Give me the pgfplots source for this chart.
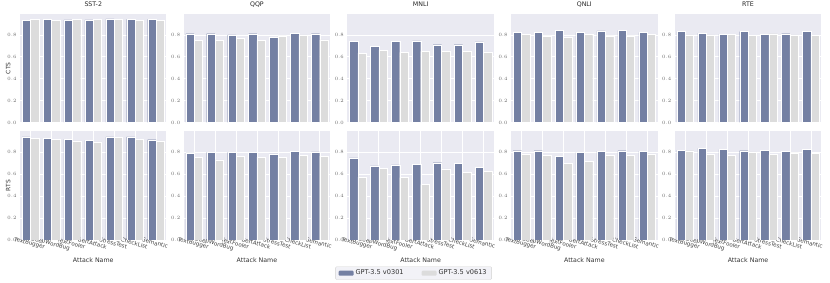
\documentclass[border=0pt]{standalone}
\usepackage{pgfplots}
\pgfplotsset{compat=1.18}
\usepgfplotslibrary{groupplots}
\usetikzlibrary{calc}
\usepackage{fontspec}
\setsansfont{DejaVu Sans}
\definecolor{cdark}{HTML}{7480A3}
\definecolor{clight}{HTML}{DCDCDC}
\definecolor{bgc}{HTML}{EAEAF2}
\pgfplotsset{
  panel/.style={
    width=146.5bp, height=108.5bp, scale only axis,
    axis background/.style={fill=bgc},
    axis line style={draw=none},
    major tick length=0pt,
    ymin=0, ymax=0.99, xmin=-0.5, xmax=6.5,
    ytick={0,0.2,0.4,0.6,0.8},
    yticklabel style={font=\fontsize{5}{5}\selectfont, text=black!60, /pgf/number format/fixed, /pgf/number format/precision=1, /pgf/number format/fixed zerofill},
    ymajorgrids, grid style={white, line width=0.6pt},
    xtick={0,1,2,3,4,5,6},
    title style={font=\sffamily\fontsize{6.3}{7}\selectfont, text=black!85, yshift=-2.5bp},
    ylabel style={font=\sffamily\fontsize{6}{7}\selectfont, text=black!80, at={(axis description cs:-0.08,0.5)}, anchor=center},
    xlabel style={font=\sffamily\fontsize{6.3}{7}\selectfont, text=black!80, at={(axis description cs:0.5,-0.19)}, anchor=center},
    ybar, bar width=0.4,
  },
  toprow/.style={panel, xticklabels={}},
  botrow/.style={panel, xmajorgrids,
    xticklabels={TextBugger,DeepWordBug,TextFooler,BertAttack,StressTest,CheckList,Semantic},
    xticklabel style={font=\sffamily\fontsize{5.6}{6}\selectfont, text=black!75, rotate=-15, anchor=north, inner sep=1pt},
    xlabel={Attack Name}},
  s1/.style={fill=cdark, draw=white, line width=0.3pt, bar shift=-0.2},
  s2/.style={fill=clight, draw=white, line width=0.3pt, bar shift=0.2},
}
\begin{document}
\begin{tikzpicture}
\begin{groupplot}[group style={group size=5 by 2, horizontal sep=17.2bp, vertical sep=9bp}]
% ---------- CTS row ----------
\nextgroupplot[toprow, title={SST-2}, ylabel={CTS}]
\addplot[s1] coordinates {(0,0.935) (1,0.940) (2,0.937) (3,0.937) (4,0.945) (5,0.940) (6,0.940)};
\addplot[s2] coordinates {(0,0.940) (1,0.935) (2,0.940) (3,0.940) (4,0.940) (5,0.935) (6,0.935)};
\nextgroupplot[toprow, title={QQP}]
\addplot[s1] coordinates {(0,0.810) (1,0.810) (2,0.800) (3,0.810) (4,0.780) (5,0.815) (6,0.810)};
\addplot[s2] coordinates {(0,0.750) (1,0.750) (2,0.770) (3,0.750) (4,0.790) (5,0.800) (6,0.755)};
\nextgroupplot[toprow, title={MNLI}]
\addplot[s1] coordinates {(0,0.742) (1,0.696) (2,0.742) (3,0.745) (4,0.710) (5,0.710) (6,0.735)};
\addplot[s2] coordinates {(0,0.632) (1,0.660) (2,0.640) (3,0.650) (4,0.650) (5,0.650) (6,0.645)};
\nextgroupplot[toprow, title={QNLI}]
\addplot[s1] coordinates {(0,0.820) (1,0.825) (2,0.840) (3,0.820) (4,0.835) (5,0.840) (6,0.820)};
\addplot[s2] coordinates {(0,0.805) (1,0.790) (2,0.780) (3,0.805) (4,0.790) (5,0.790) (6,0.805)};
\nextgroupplot[toprow, title={RTE}]
\addplot[s1] coordinates {(0,0.830) (1,0.815) (2,0.805) (3,0.830) (4,0.805) (5,0.810) (6,0.830)};
\addplot[s2] coordinates {(0,0.800) (1,0.800) (2,0.805) (3,0.795) (4,0.810) (5,0.800) (6,0.795)};
% ---------- RTS row ----------
\nextgroupplot[botrow, ylabel={RTS}]
\addplot[s1] coordinates {(0,0.940) (1,0.925) (2,0.920) (3,0.910) (4,0.940) (5,0.940) (6,0.915)};
\addplot[s2] coordinates {(0,0.930) (1,0.920) (2,0.905) (3,0.895) (4,0.935) (5,0.920) (6,0.905)};
\nextgroupplot[botrow]
\addplot[s1] coordinates {(0,0.795) (1,0.800) (2,0.800) (3,0.800) (4,0.785) (5,0.810) (6,0.805)};
\addplot[s2] coordinates {(0,0.755) (1,0.730) (2,0.765) (3,0.755) (4,0.755) (5,0.775) (6,0.765)};
\nextgroupplot[botrow,
  legend columns=2,
  legend style={at={(axis description cs:0.452,-0.245)}, anchor=north, fill=bgc!60!white, draw=black!18, rounded corners=1pt,
    font=\sffamily\fontsize{6.6}{7}\selectfont, text=black!80, inner xsep=3bp, inner ysep=1.2bp,
    /tikz/every even column/.append style={column sep=16bp}},
  legend image code/.code={\fill[#1, draw=none] (0bp,-2.5bp) rectangle (15bp,2.5bp);}]
\addplot[s1] coordinates {(0,0.750) (1,0.677) (2,0.685) (3,0.690) (4,0.705) (5,0.700) (6,0.665)};
\addplot[s2] coordinates {(0,0.575) (1,0.653) (2,0.570) (3,0.505) (4,0.650) (5,0.615) (6,0.625)};
\legend{GPT-3.5 v0301, GPT-3.5 v0613}
\nextgroupplot[botrow]
\addplot[s1] coordinates {(0,0.815) (1,0.815) (2,0.765) (3,0.800) (4,0.810) (5,0.815) (6,0.810)};
\addplot[s2] coordinates {(0,0.780) (1,0.770) (2,0.697) (3,0.720) (4,0.775) (5,0.770) (6,0.785)};
\nextgroupplot[botrow]
\addplot[s1] coordinates {(0,0.820) (1,0.835) (2,0.825) (3,0.815) (4,0.820) (5,0.810) (6,0.830)};
\addplot[s2] coordinates {(0,0.815) (1,0.780) (2,0.775) (3,0.805) (4,0.780) (5,0.795) (6,0.790)};
\end{groupplot}
\pgfresetboundingbox
\path[use as bounding box] ($(group c1r1.north west)+(-20bp,14bp)$) rectangle ($(group c1r1.north west)+(810bp,-269bp)$);
\end{tikzpicture}
\end{document}
